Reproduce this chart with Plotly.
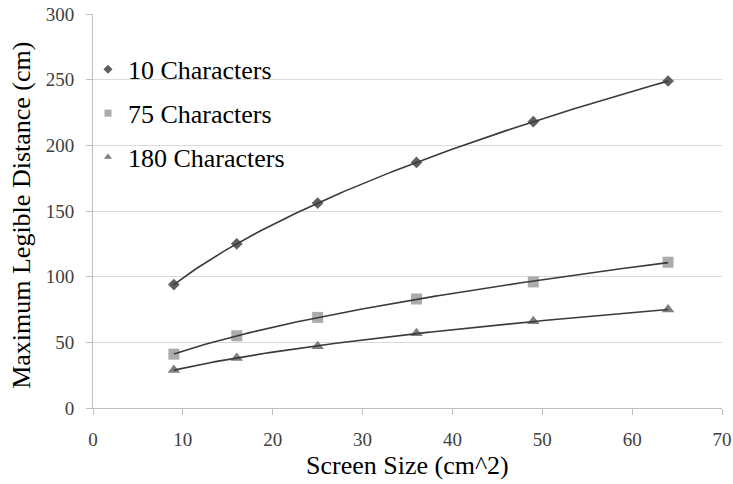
import numpy as np
import plotly.graph_objects as go

# Screen sizes (cm^2) and maximum legible distances (cm)
screen_size = [9, 16, 25, 36, 49, 64]
chars_10 = [94, 125, 156, 187, 218, 249]
chars_75 = [41, 55, 69, 83, 96, 111]
chars_180 = [29, 38, 47, 57, 66, 75]

series_names = ["10 Characters", "75 Characters", "180 Characters"]
series_values = [chars_10, chars_75, chars_180]
symbols = ["diamond", "square", "triangle-up"]
colors = ["#5f5f5f", "#ababab", "#7f7f7f"]
sizes = [9, 11, 11]

x_ticks = [0, 10, 20, 30, 40, 50, 60, 70]
y_ticks = [0, 50, 100, 150, 200, 250, 300]

FONT = "Liberation Serif"

fig = go.Figure()

x_arr = np.array(screen_size, dtype=float)
x_fit = np.linspace(x_arr.min(), x_arr.max(), 120)

for name, vals, sym, col, sz in zip(series_names, series_values, symbols, colors, sizes):
    y_arr = np.array(vals, dtype=float)
    # power trendline y = a * x^b fitted in log-log space
    b, log_a = np.polyfit(np.log(x_arr), np.log(y_arr), 1)
    y_fit = np.exp(log_a) * x_fit ** b
    fig.add_trace(go.Scatter(
        x=screen_size, y=vals, mode="markers", showlegend=False,
        marker=dict(symbol=sym, size=sz, color=col, line=dict(width=0)),
    ))
    fig.add_trace(go.Scatter(
        x=x_fit, y=y_fit, mode="lines", showlegend=False,
        line=dict(color="#3a3a3a", width=1.6), hoverinfo="skip",
    ))
    # legend entry with a compact marker
    fig.add_trace(go.Scatter(
        x=[None], y=[None], mode="markers", name=name, legendgroup=name,
        marker=dict(symbol=sym, size=7, color=col, line=dict(width=0)),
    ))

fig.update_layout(
    width=733, height=484,
    margin=dict(l=93, r=11, t=14, b=76, autoexpand=False),
    paper_bgcolor="white", plot_bgcolor="white",
    font=dict(family=FONT, color="#000000"),
    showlegend=True,
    legend=dict(
        x=-0.008, y=0.919, xanchor="left", yanchor="top",
        font=dict(family=FONT, size=26, color="#000000"),
        bgcolor="rgba(0,0,0,0)", traceorder="grouped", tracegroupgap=7,
        itemwidth=30,
    ),
    xaxis=dict(
        range=[0, 70], tickvals=x_ticks, ticks="outside", ticklen=6,
        tickcolor="#bfbfbf", tickwidth=1, showgrid=False, zeroline=False,
        showline=True, linecolor="#bfbfbf", linewidth=1, automargin=False,
        tickfont=dict(family=FONT, size=19, color="#404040"),
        ticklabelstandoff=8,
    ),
    yaxis=dict(
        range=[0, 300], tickvals=y_ticks, ticks="outside", ticklen=6,
        tickcolor="#bfbfbf", tickwidth=1, showgrid=True, gridcolor="#d9d9d9",
        gridwidth=1, zeroline=False, showline=True, linecolor="#bfbfbf", linewidth=1,
        automargin=False,
        tickfont=dict(family=FONT, size=19, color="#404040"),
        ticklabelstandoff=8,
    ),
    annotations=[
        dict(text="Screen Size (cm^2)", xref="paper", yref="paper",
             x=0.5, y=-0.145, xanchor="center", yanchor="middle", showarrow=False,
             font=dict(family=FONT, size=26, color="#000000")),
        dict(text="Maximum Legible Distance (cm)", xref="paper", yref="paper",
             x=-0.113, y=0.49, xanchor="center", yanchor="middle", showarrow=False,
             textangle=-90, font=dict(family=FONT, size=26, color="#000000")),
    ],
)

fig.write_html("out.html")
